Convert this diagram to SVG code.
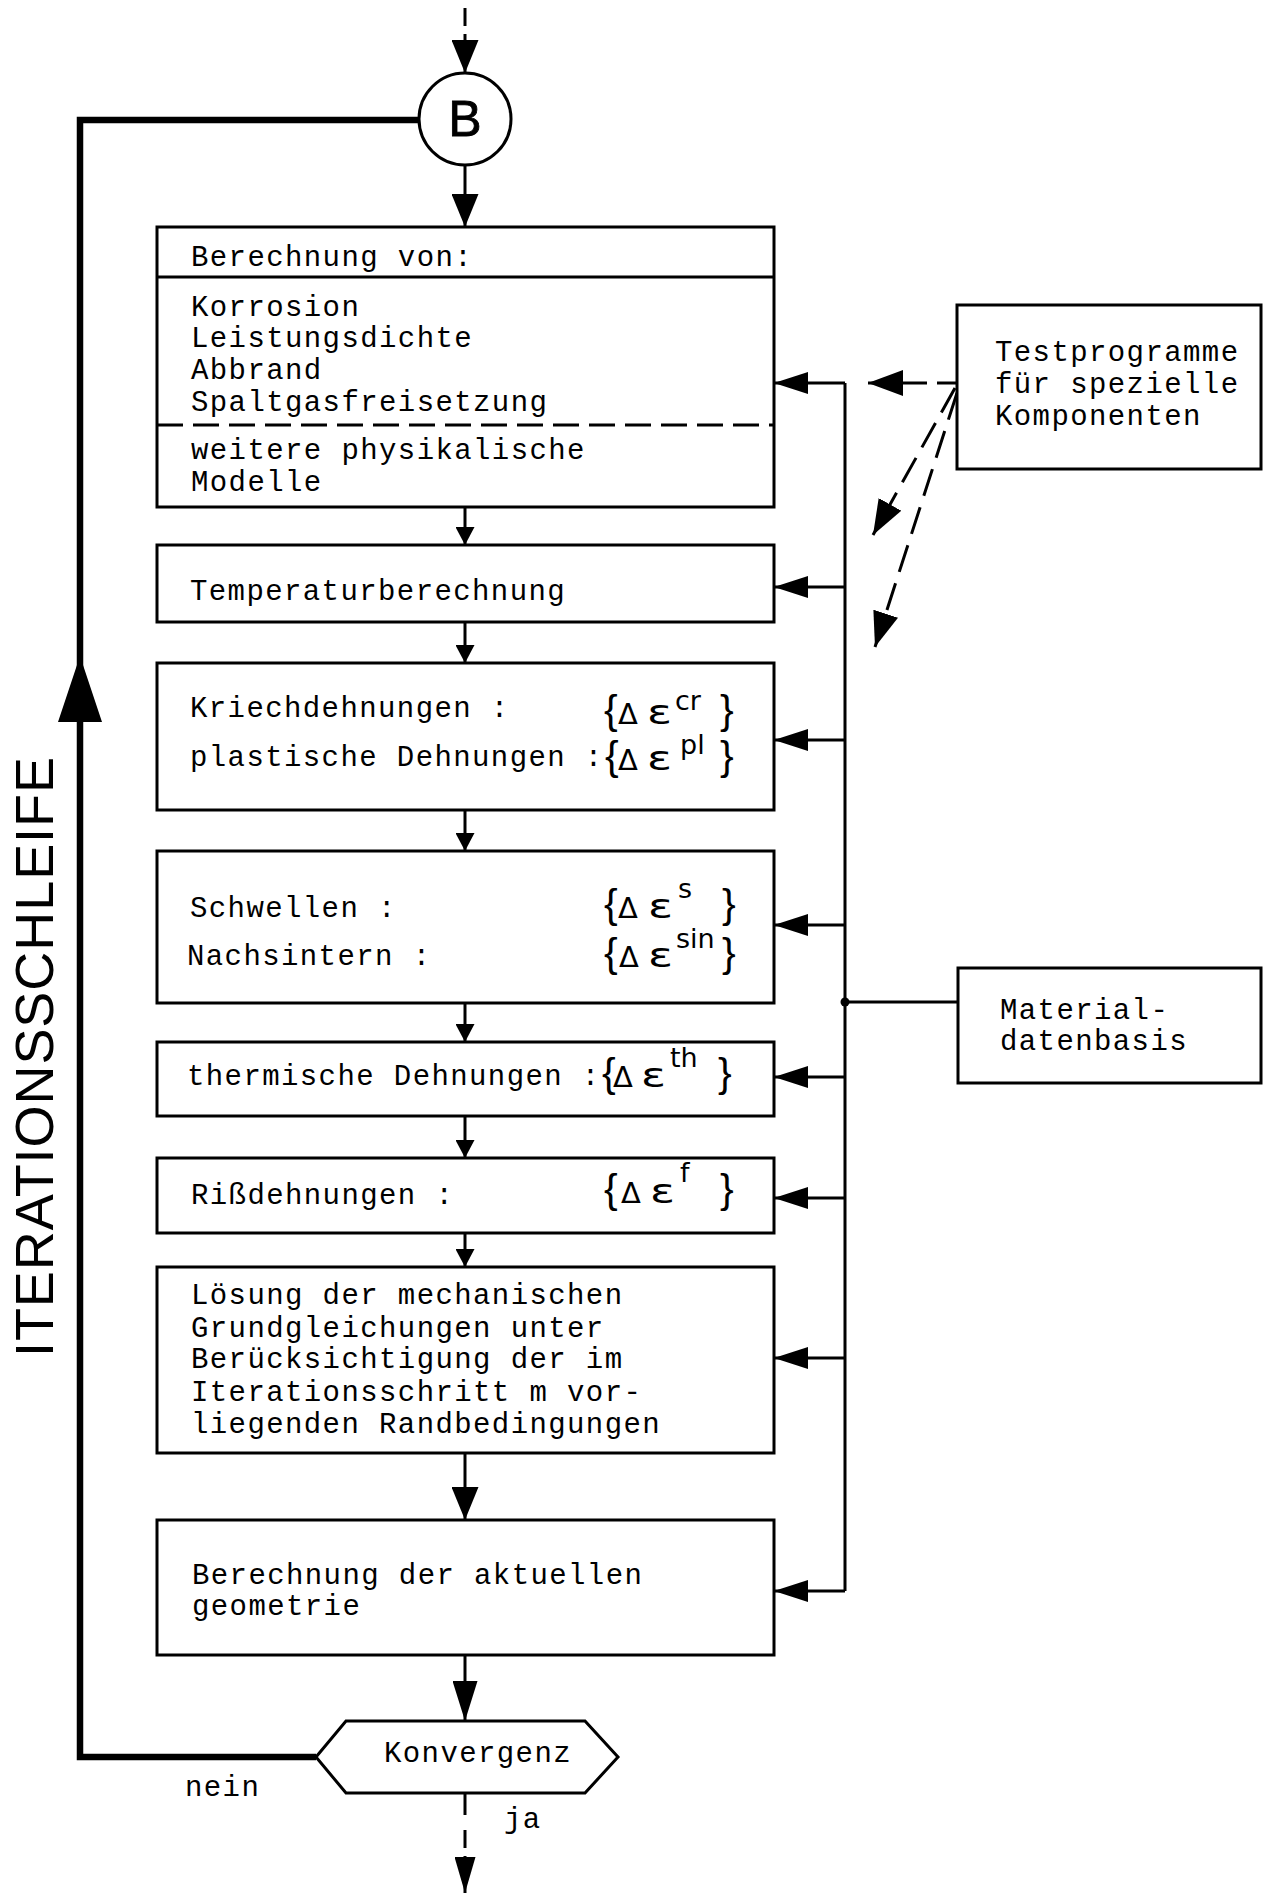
<svg xmlns="http://www.w3.org/2000/svg" width="1263" height="1893" viewBox="0 0 1263 1893">
<style>
.box{fill:#fff;stroke:#000;stroke-width:3}
.t{font-family:"Liberation Mono",monospace;font-size:29px;letter-spacing:1.4px;fill:#000}
.m{font-family:"DejaVu Sans",sans-serif;font-size:29px;fill:#000}
.s{font-size:27px}
.br{font-family:"Liberation Sans",sans-serif;font-size:41px}
.ep{font-family:"DejaVu Sans",sans-serif;font-size:34px;fill:#000}
.ln{stroke:#000;stroke-width:3;fill:none}
.thick{stroke-width:6.5}
.dash{stroke-dasharray:28 12}
</style>
<defs>
<marker id="as" markerUnits="userSpaceOnUse" markerWidth="18" markerHeight="19" viewBox="0 0 18 19" refX="18" refY="9.5" orient="auto"><path d="M0,0 L18,9.5 L0,19 Z" fill="#000"/></marker>
<marker id="ar" markerUnits="userSpaceOnUse" markerWidth="34" markerHeight="22" viewBox="0 0 34 22" refX="34" refY="11" orient="auto"><path d="M0,0 L34,11 L0,22 Z" fill="#000"/></marker>
<marker id="am" markerUnits="userSpaceOnUse" markerWidth="33" markerHeight="27" viewBox="0 0 33 27" refX="33" refY="13.5" orient="auto"><path d="M0,0 L33,13.5 L0,27 Z" fill="#000"/></marker>
<marker id="al" markerUnits="userSpaceOnUse" markerWidth="40" markerHeight="25" viewBox="0 0 40 25" refX="40" refY="12.5" orient="auto"><path d="M0,0 L40,12.5 L0,25 Z" fill="#000"/></marker>
<marker id="ab" markerUnits="userSpaceOnUse" markerWidth="36" markerHeight="21" viewBox="0 0 36 21" refX="36" refY="10.5" orient="auto"><path d="M0,0 L36,10.5 L0,21 Z" fill="#000"/></marker>
<marker id="ad" markerUnits="userSpaceOnUse" markerWidth="35" markerHeight="26" viewBox="0 0 35 26" refX="35" refY="13" orient="auto"><path d="M0,0 L35,13 L0,26 Z" fill="#000"/></marker>
</defs>
<rect width="1263" height="1893" fill="#fff"/>

<g id="connectors">
<path class="ln" d="M465,8 V26"/>
<path class="ln" d="M465,34 V73" marker-end="url(#am)"/>
<path class="ln" d="M465,165 V227" marker-end="url(#am)"/>
<path class="ln" d="M465,507 V545" marker-end="url(#as)"/>
<path class="ln" d="M465,622 V663" marker-end="url(#as)"/>
<path class="ln" d="M465,810 V851" marker-end="url(#as)"/>
<path class="ln" d="M465,1003 V1042" marker-end="url(#as)"/>
<path class="ln" d="M465,1116 V1158" marker-end="url(#as)"/>
<path class="ln" d="M465,1233 V1267" marker-end="url(#as)"/>
<path class="ln" d="M465,1453 V1520" marker-end="url(#am)"/>
<path class="ln" d="M465,1655 V1721" marker-end="url(#al)"/>
<path class="ln" d="M465,1793 V1815"/>
<path class="ln" d="M465,1830 V1848"/>
<path class="ln" d="M465,1856 V1893" marker-end="url(#ab)"/>
<path class="ln thick" d="M419,120 H80 V1757 H316"/>
<polygon points="80,656 102,722 58,722" fill="#000"/>
<path class="ln" d="M845,383 V1591"/>
<path class="ln" d="M845,383 H774" marker-end="url(#ar)"/>
<path class="ln" d="M845,587 H774" marker-end="url(#ar)"/>
<path class="ln" d="M845,740 H774" marker-end="url(#ar)"/>
<path class="ln" d="M845,925 H774" marker-end="url(#ar)"/>
<path class="ln" d="M845,1077 H774" marker-end="url(#ar)"/>
<path class="ln" d="M845,1198 H774" marker-end="url(#ar)"/>
<path class="ln" d="M845,1358 H774" marker-end="url(#ar)"/>
<path class="ln" d="M845,1591 H774" marker-end="url(#ar)"/>
<path class="ln" d="M845,1002 H958"/>
<circle cx="845" cy="1002" r="4.5" fill="#000"/>
<path class="ln" d="M957,383 H937"/>
<path class="ln" d="M927,383 H868" marker-end="url(#ad)"/>
<path class="ln dash" d="M955,388 L873,535" marker-end="url(#ad)"/>
<path class="ln dash" d="M957,393 L875,647" marker-end="url(#ad)"/>
</g>

<g id="nodeB">
<circle cx="465" cy="119" r="46" class="box"/>
<text x="465" y="136" text-anchor="middle" font-family="Liberation Sans, sans-serif" font-size="50" stroke="#000" stroke-width="0.8">B</text>
</g>

<g id="box1">
<rect x="157" y="227" width="617" height="280" class="box"/>
<path class="ln" d="M157,277 H774"/>
<path class="ln" d="M157,425 H774" stroke-dasharray="26 10"/>
<text class="t" x="191" y="266">Berechnung von:</text>
<text class="t" x="191" y="316">Korrosion</text>
<text class="t" x="191" y="347">Leistungsdichte</text>
<text class="t" x="191" y="379">Abbrand</text>
<text class="t" x="191" y="411">Spaltgasfreisetzung</text>
<text class="t" x="191" y="459">weitere physikalische</text>
<text class="t" x="191" y="491">Modelle</text>
</g>

<g id="box2">
<rect x="157" y="545" width="617" height="77" class="box"/>
<text class="t" x="190" y="600">Temperaturberechnung</text>
</g>

<g id="box3">
<rect x="157" y="663" width="617" height="147" class="box"/>
<text class="t" x="190" y="717">Kriechdehnungen :</text>
<text class="t" x="190" y="766">plastische Dehnungen :</text>
<text class="m" y="724"><tspan class="br" x="604">{</tspan><tspan x="618">Δ</tspan><tspan class="s" x="675" dy="-14">cr</tspan><tspan class="br" x="720" dy="14">}</tspan></text>
<text class="ep" x="647" y="724" textLength="25" lengthAdjust="spacingAndGlyphs">ε</text>
<text class="m" y="770"><tspan class="br" x="605">{</tspan><tspan x="618">Δ</tspan><tspan class="s" x="680" dy="-16">pl</tspan><tspan class="br" x="720" dy="16">}</tspan></text>
<text class="ep" x="647" y="770" textLength="25" lengthAdjust="spacingAndGlyphs">ε</text>
</g>

<g id="box4">
<rect x="157" y="851" width="617" height="152" class="box"/>
<text class="t" x="190" y="917">Schwellen :</text>
<text class="t" x="187" y="965">Nachsintern :</text>
<text class="m" y="918"><tspan class="br" x="604">{</tspan><tspan x="618">Δ</tspan><tspan class="s" x="678" dy="-20">s</tspan><tspan class="br" x="722" dy="20">}</tspan></text>
<text class="ep" x="648" y="918" textLength="25" lengthAdjust="spacingAndGlyphs">ε</text>
<text class="m" y="967"><tspan class="br" x="604">{</tspan><tspan x="619">Δ</tspan><tspan class="s" x="676" dy="-19">sin</tspan><tspan class="br" x="722" dy="19">}</tspan></text>
<text class="ep" x="648" y="967" textLength="25" lengthAdjust="spacingAndGlyphs">ε</text>
</g>

<g id="box5">
<rect x="157" y="1042" width="617" height="74" class="box"/>
<text class="t" x="187" y="1085">thermische Dehnungen :</text>
<text class="m" y="1087"><tspan class="br" x="602">{</tspan><tspan x="613">Δ</tspan><tspan class="s" x="670" dy="-20">th</tspan><tspan class="br" x="718" dy="20">}</tspan></text>
<text class="ep" x="641" y="1087" textLength="25" lengthAdjust="spacingAndGlyphs">ε</text>
</g>

<g id="box6">
<rect x="157" y="1158" width="617" height="75" class="box"/>
<text class="t" x="191" y="1204">Rißdehnungen :</text>
<text class="m" y="1203"><tspan class="br" x="604">{</tspan><tspan x="621">Δ</tspan><tspan class="s" x="680" dy="-21">f</tspan><tspan class="br" x="720" dy="21">}</tspan></text>
<text class="ep" x="650" y="1203" textLength="25" lengthAdjust="spacingAndGlyphs">ε</text>
</g>

<g id="box7">
<rect x="157" y="1267" width="617" height="186" class="box"/>
<text class="t" x="191" y="1304">Lösung der mechanischen</text>
<text class="t" x="191" y="1337">Grundgleichungen unter</text>
<text class="t" x="191" y="1368">Berücksichtigung der im</text>
<text class="t" x="191" y="1401">Iterationsschritt m vor-</text>
<text class="t" x="191" y="1433">liegenden Randbedingungen</text>
</g>

<g id="box8">
<rect x="157" y="1520" width="617" height="135" class="box"/>
<text class="t" x="192" y="1584">Berechnung der aktuellen</text>
<text class="t" x="192" y="1615">geometrie</text>
</g>

<g id="konvergenz">
<polygon class="box" points="316,1757 346,1721 585,1721 618,1757 585,1793 346,1793"/>
<text class="t" x="384" y="1762">Konvergenz</text>
</g>

<g id="labels">
<text class="t" x="185" y="1796">nein</text>
<text class="t" x="504" y="1828">ja</text>
<text transform="translate(53,1357) rotate(-90)" font-family="Liberation Sans, sans-serif" font-size="54" textLength="600" lengthAdjust="spacing">ITERATIONSSCHLEIFE</text>
</g>

<g id="testprogramme">
<rect x="957" y="305" width="304" height="164" class="box"/>
<text class="t" x="995" y="361">Testprogramme</text>
<text class="t" x="995" y="393">für spezielle</text>
<text class="t" x="995" y="425">Komponenten</text>
</g>

<g id="material">
<rect x="958" y="968" width="303" height="115" class="box"/>
<text class="t" x="1000" y="1019">Material-</text>
<text class="t" x="1000" y="1050">datenbasis</text>
</g>
</svg>
